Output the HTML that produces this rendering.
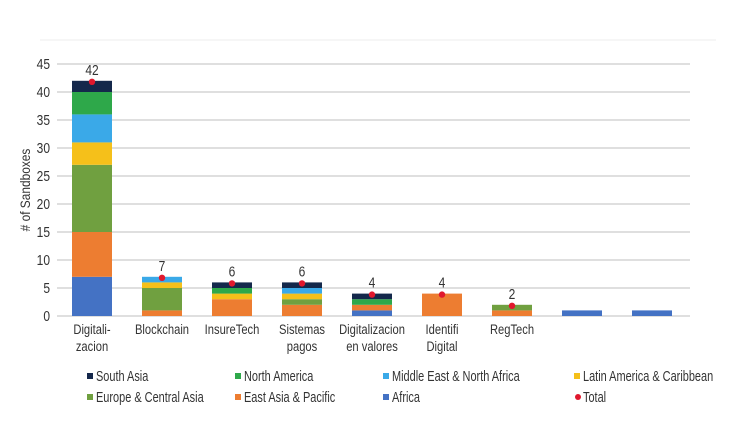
<!DOCTYPE html>
<html><head><meta charset="utf-8"><style>
body{margin:0;background:#fff;width:754px;height:440px;overflow:hidden}
svg{display:block}
text{font-family:"Liberation Sans",sans-serif;fill:#333}
</style></head><body>
<svg id="chart" width="754" height="440"></svg>
<script>
const categories=[["Digitali-","zacion"],["Blockchain"],["InsureTech"],["Sistemas","pagos"],["Digitalizacion","en valores"],["Identifi","Digital"],["RegTech"],[""],[""]];
const seriesNames=["Africa","East Asia & Pacific","Europe & Central Asia","Latin America & Caribbean","Middle East & North Africa","North America","South Asia"];
const colors=["#4472c4","#ed7d31","#70a040","#f5c01a","#3aa9e8","#2ea84a","#14284b"];
const africa=[7,0,0,0,1,0,0,1,1];
const eap=[8,1,3,2,1,4,1,0,0];
const eca=[12,4,0,1,0,0,1,0,0];
const lac=[4,1,1,1,0,0,0,0,0];
const mena=[5,1,0,1,0,0,0,0,0];
const na=[4,0,1,0,1,0,0,0,0];
const sa=[2,0,1,1,1,0,0,0,0];
const totals=[42,7,6,6,4,4,2,null,null];
const yTicks=[0,5,10,15,20,25,30,35,40,45];
const series=[africa,eap,eca,lac,mena,na,sa];
const svg=document.getElementById('chart');
const NS='http://www.w3.org/2000/svg';
const y0=316,y45=64,x0=57,x1=690,bw=40,step=70,c0=92;
const yS=v=>y0-(y0-y45)*v/45;
const xS=i=>c0+i*step;
function mk(t,a){const e=document.createElementNS(NS,t);for(const k in a)e.setAttribute(k,a[k]);svg.appendChild(e);return e;}
function txt(x,y,s,size,anchor,sx){return mk('text',{transform:'translate('+x+','+y+') scale('+(sx||0.8)+',1)',x:0,y:0,'text-anchor':anchor||'start','font-size':size});}
const topLine=mk('line',{x1:40,x2:716,y1:40,y2:40,stroke:'#eee','stroke-width':1});


yTicks.forEach(v=>{
 const l=mk('line',{x1:x0,x2:x1,y1:yS(v),y2:yS(v),stroke:'#ccc','stroke-width':1.2});
 
 
 const t=txt(50,yS(v)+5,'',15,'end');
 t.textContent=v;
 
 
});
const yt=mk('text',{transform:'translate(30,190) rotate(-90) scale(0.85,1)','text-anchor':'middle','font-size':14});
yt.textContent='# of Sandboxes';


categories.forEach((c,i)=>{
 let acc=0;
 series.forEach((s,k)=>{
  if(!s[i])return;
  const r=mk('rect',{x:xS(i)-bw/2,y:yS(acc+s[i]),width:bw,height:yS(acc)-yS(acc+s[i]),fill:colors[k]});
  
  
  acc+=s[i];
 });
 if(totals[i]!=null){
  const d=mk('circle',{cx:xS(i),cy:yS(totals[i])+1,r:3.2,fill:'#e0182d'});
  
  
  const t=txt(xS(i),yS(totals[i])-6,'',15,'middle');
  t.textContent=totals[i];
  
  
 }
 c.forEach((ln,j)=>{
  const t=txt(xS(i),334+j*17,'',14,'middle',0.8);
  t.textContent=ln;
  
  
 });
});
const leg=[["South Asia",6,96,381],["North America",5,244,381],["Middle East & North Africa",4,392,381],["Latin America & Caribbean",3,583,381],["Europe & Central Asia",2,96,402],["East Asia & Pacific",1,244,402],["Africa",0,392,402],["Total",-1,583,402]];
leg.forEach(([n,k,x,y])=>{
 let m;
 if(k<0)m=mk('circle',{cx:x-5,cy:y-5,r:3,fill:'#e0182d'});
 else m=mk('rect',{x:x-9,y:y-8,width:6,height:6,fill:colors[k]});
 
 
 const t=txt(x,y,'',15,'start',0.73);
 t.textContent=n;
 
 
});
</script>
</body></html>
